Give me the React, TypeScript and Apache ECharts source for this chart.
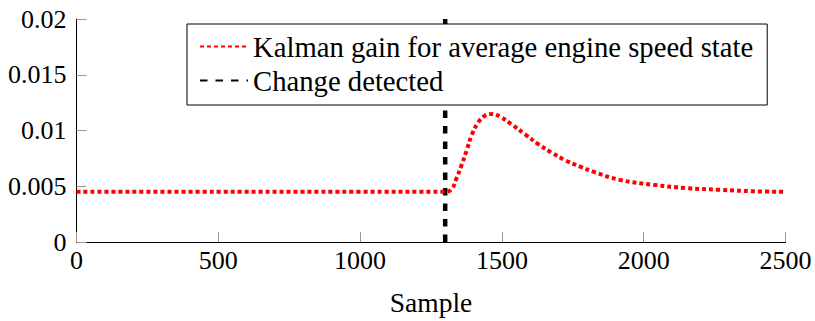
import React, { useEffect, useRef } from "react";
import * as echarts from "echarts";

// Data
const sampleX = [0, 500, 1000, 1300, 1323, 1340, 1358, 1376, 1393, 1417, 1440, 1467, 1493, 1535, 1582, 1629, 1676, 1723, 1776, 1822, 1916, 2034, 2152, 2269, 2387, 2500];
const kalmanGain = [0.0045, 0.0045, 0.0045, 0.0045, 0.00474, 0.00572, 0.0069, 0.00823, 0.00956, 0.01075, 0.01133, 0.01149, 0.01125, 0.01054, 0.00965, 0.00876, 0.008, 0.00734, 0.00676, 0.00631, 0.00557, 0.00513, 0.00483, 0.00468, 0.00455, 0.0045];
const changeX = [1300, 1300];
const changeY = [0, 0.02];
const xTickValues = [0, 500, 1000, 1500, 2000, 2500];
const xTickLabels = ["0", "500", "1000", "1500", "2000", "2500"];
const yTickValues = [0, 0.005, 0.01, 0.015, 0.02];
const yTickLabels = ["0", "0.005", "0.01", "0.015", "0.02"];
const seriesNames = ["Kalman gain for average engine speed state", "Change detected"];
const xAxisName = "Sample";

const FONT = "Liberation Serif";

function pickLabel(values: number[], labels: string[], v: number) {
  for (let i = 0; i < values.length; i++) {
    if (Math.abs(values[i] - v) < 1e-9) return labels[i];
  }
  return "";
}

export default function App() {
  const ref = useRef<HTMLDivElement>(null);
  useEffect(() => {
    if (!ref.current) return;
    const chart = echarts.init(ref.current, null, { renderer: "svg" });
    chart.setOption({
      animation: false,
      backgroundColor: "#fff",
      textStyle: { fontFamily: FONT },
      grid: { left: 76.5, right: 29.5, top: 19, bottom: 76.5, containLabel: false },
      legend: {
        left: 187,
        top: 24,
        orient: "vertical",
        backgroundColor: "#fff",
        borderColor: "#000",
        borderWidth: 1,
        borderRadius: 0,
        padding: [8, 14, 10, 12],
        itemWidth: 48,
        itemHeight: 14,
        itemGap: 5,
        itemStyle: { opacity: 0 },
        textStyle: { fontFamily: FONT, fontSize: 28.7, color: "#000", lineHeight: 26 },
        data: seriesNames,
      },
      xAxis: {
        type: "value",
        min: 0,
        max: 2500,
        interval: 500,
        name: xAxisName,
        nameLocation: "middle",
        nameGap: 46,
        nameTextStyle: { fontFamily: FONT, fontSize: 27.5, color: "#000" },
        axisLine: { show: true, lineStyle: { color: "#000", width: 1 } },
        axisTick: { show: true, inside: true, length: 10, lineStyle: { color: "#999", width: 1 } },
        axisLabel: {
          fontFamily: FONT,
          fontSize: 26,
          color: "#000",
          margin: 5,
          formatter: (v: number) => pickLabel(xTickValues, xTickLabels, v),
        },
        splitLine: { show: false },
      },
      yAxis: {
        type: "value",
        min: 0,
        max: 0.02,
        interval: 0.005,
        axisLine: { show: true, lineStyle: { color: "#000", width: 1 } },
        axisTick: { show: true, inside: true, length: 10, lineStyle: { color: "#999", width: 1 } },
        axisLabel: {
          fontFamily: FONT,
          fontSize: 26,
          color: "#000",
          margin: 10,
          formatter: (v: number) => pickLabel(yTickValues, yTickLabels, v),
        },
        splitLine: { show: false },
      },
      series: [
        {
          name: seriesNames[0],
          type: "line",
          data: sampleX.map((x, i) => [x, kalmanGain[i]]),
          showSymbol: false,
          symbol: "none",
          smooth: 0.4,
          lineStyle: { color: "#ff0000", width: 4, type: [4, 3], cap: "butt" },
          itemStyle: { color: "#ff0000" },
          z: 3,
        },
        {
          name: seriesNames[1],
          type: "line",
          data: changeX.map((x, i) => [x, changeY[i]]),
          showSymbol: false,
          symbol: "none",
          lineStyle: { color: "#000", width: 4.5, type: [7.5, 8], cap: "butt" },
          itemStyle: { color: "#000" },
          z: 2,
        },
      ],
    });
    return () => chart.dispose();
  }, []);
  return (
    <div
      ref={ref}
      style={{ position: "fixed", left: 0, top: 0, width: 815, height: 321, background: "#fff" }}
    />
  );
}
